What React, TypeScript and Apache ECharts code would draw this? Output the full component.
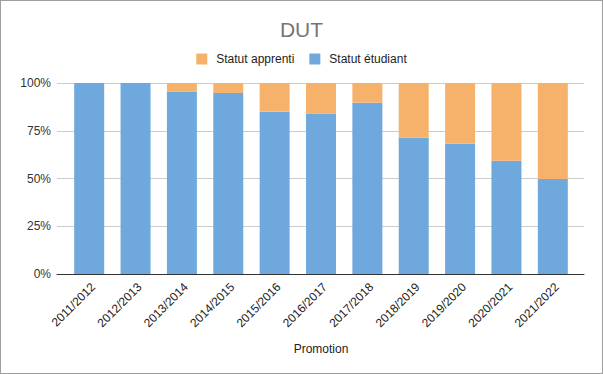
import React, { useEffect, useRef } from "react";
import * as echarts from "echarts";

const categories = [
  "2011/2012", "2012/2013", "2013/2014", "2014/2015", "2015/2016", "2016/2017",
  "2017/2018", "2018/2019", "2019/2020", "2020/2021", "2021/2022",
];
const etudiant = [1.0, 1.0, 0.955, 0.948, 0.85, 0.84, 0.897, 0.713, 0.682, 0.593, 0.498];
const apprenti = [0.0, 0.0, 0.045, 0.052, 0.15, 0.16, 0.103, 0.287, 0.318, 0.407, 0.502];
const yTicks = [0, 0.25, 0.5, 0.75, 1];

const FONT = "'Liberation Sans', Arial, sans-serif";

export default function App() {
  const ref = useRef<HTMLDivElement>(null);
  useEffect(() => {
    document.body.style.margin = "0";
    const chart = echarts.init(ref.current!, undefined, { renderer: "svg" });
    chart.setOption({
      animation: false,
      textStyle: { fontFamily: FONT },
      title: {
        text: "DUT",
        left: "center",
        top: 13,
        textStyle: { fontSize: 21, fontWeight: "normal", color: "#757575", fontFamily: FONT },
      },
      legend: {
        top: 47,
        left: "center",
        itemWidth: 11,
        itemHeight: 11,
        itemGap: 15,
        icon: "rect",
        data: ["Statut apprenti", "Statut étudiant"],
        textStyle: { fontSize: 12, color: "#222", fontFamily: FONT, padding: [0, 0, 0, 4] },
      },
      grid: [
        { left: 56, right: 18, top: 82, bottom: 99 },
        { left: 65, right: 26, top: 82, bottom: 99 },
        { left: 69, right: 22, top: 82, bottom: 99 },
      ],
      xAxis: [
        {
          type: "category",
          gridIndex: 0,
          data: categories,
          axisLabel: { show: false },
          axisTick: { show: false },
          axisLine: { lineStyle: { color: "#333", width: 1 } },
          z: 5,
        },
        {
          type: "category",
          gridIndex: 1,
          data: categories,
          axisLine: { show: false },
          axisTick: { show: false },
          axisLabel: { show: false },
          name: "Promotion",
          nameLocation: "middle",
          nameGap: 69,
          nameTextStyle: { fontSize: 12, color: "#222", fontFamily: FONT },
        },
        {
          type: "category",
          gridIndex: 2,
          data: categories,
          axisLine: { show: false },
          axisTick: { show: false },
          axisLabel: {
            rotate: 45,
            fontSize: 12,
            color: "#222",
            margin: 11,
            fontFamily: FONT,
          },
        },
      ],
      yAxis: [
        {
          type: "value",
          gridIndex: 0,
          min: yTicks[0],
          max: yTicks[yTicks.length - 1],
          interval: 0.25,
          axisLine: { show: false },
          axisTick: { show: false },
          axisLabel: {
            fontSize: 12,
            color: "#333",
            margin: 6,
            fontFamily: FONT,
            formatter: (v: number) => Math.round(v * 100) + "%",
          },
          splitLine: { lineStyle: { color: "#cccccc", width: 1 } },
        },
        {
          type: "value",
          gridIndex: 1,
          min: 0,
          max: 1,
          interval: 0.25,
          show: false,
          splitLine: { show: false },
        },
        {
          type: "value",
          gridIndex: 2,
          min: 0,
          max: 1,
          interval: 0.25,
          show: false,
          splitLine: { show: false },
        },
      ],
      series: [
        {
          name: "Statut étudiant",
          type: "bar",
          stack: "total",
          xAxisIndex: 1,
          yAxisIndex: 1,
          barWidth: 30,
          data: etudiant,
          itemStyle: { color: "#6fa8dc" },
        },
        {
          name: "Statut apprenti",
          type: "bar",
          stack: "total",
          xAxisIndex: 1,
          yAxisIndex: 1,
          barWidth: 30,
          data: apprenti,
          itemStyle: { color: "#f6b26b" },
        },
      ],
    });
    return () => chart.dispose();
  }, []);
  return (
    <div
      style={{
        position: "absolute",
        left: 0,
        top: 0,
        width: 603,
        height: 374,
        boxSizing: "border-box",
        border: "1px solid #9e9e9e",
        background: "#fff",
      }}
    >
      <div ref={ref} style={{ width: 601, height: 372 }} />
    </div>
  );
}
